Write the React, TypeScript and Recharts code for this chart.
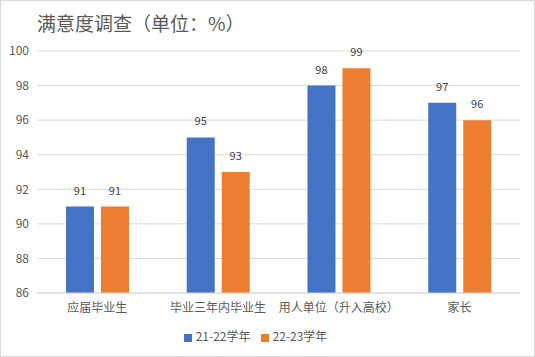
import React from 'react';
import { BarChart, Bar, XAxis, YAxis, CartesianGrid, Legend, LabelList } from 'recharts';

const categories = ['应届毕业生', '毕业三年内毕业生', '用人单位（升入高校）', '家长'];
const year2122 = [91, 95, 98, 97];
const year2223 = [91, 93, 99, 96];
const yTicks = [86, 88, 90, 92, 94, 96, 98, 100];

const data = categories.map((name, i) => ({
  name,
  y2122: year2122[i],
  y2223: year2223[i],
}));

const font = '"Noto Sans CJK SC", "Noto Sans", sans-serif';

const App: React.FC = () => {
  return (
    <div
      style={{
        position: 'absolute',
        left: 0,
        top: 0,
        width: 535,
        height: 357,
        boxSizing: 'border-box',
        border: '1px solid #d9d9d9',
        background: '#fff',
        fontFamily: font,
      }}
    >
      <div
        style={{
          position: 'absolute',
          left: 36,
          top: 8,
          fontSize: 19,
          color: '#595959',
          whiteSpace: 'nowrap',
        }}
      >
        满意度调查（单位：%）
      </div>
      <BarChart
        width={533}
        height={355}
        data={data}
        margin={{ top: 50, right: 14, left: 0, bottom: 10 }}
        barGap={7}
        barCategoryGap="24%"
      >
        <CartesianGrid vertical={false} stroke="#d9d9d9" />
        <XAxis
          dataKey="name"
          tickLine={false}
          axisLine={{ stroke: '#d9d9d9' }}
          tick={{ fill: '#595959', fontSize: 12, fontFamily: font, dy: 2 }}
          height={33}
          interval={0}
        />
        <YAxis
          domain={[86, 100]}
          ticks={yTicks}
          width={36}
          axisLine={false}
          tickLine={false}
          tick={{ fill: '#595959', fontSize: 12, fontFamily: font }}
        />
        <Legend
          verticalAlign="bottom"
          iconType="square"
          iconSize={8}
          wrapperStyle={{ fontSize: 12, fontFamily: font, color: '#595959', lineHeight: '20px' }}
          formatter={(value) => <span style={{ color: '#595959' }}>{value}</span>}
        />
        <Bar dataKey="y2122" name="21-22学年" fill="#4472C4" isAnimationActive={false}>
          <LabelList dataKey="y2122" position="top" offset={12} fill="#404040" fontSize={11} />
        </Bar>
        <Bar dataKey="y2223" name="22-23学年" fill="#ED7D31" isAnimationActive={false}>
          <LabelList dataKey="y2223" position="top" offset={12} fill="#404040" fontSize={11} />
        </Bar>
      </BarChart>
    </div>
  );
};

export default App;
